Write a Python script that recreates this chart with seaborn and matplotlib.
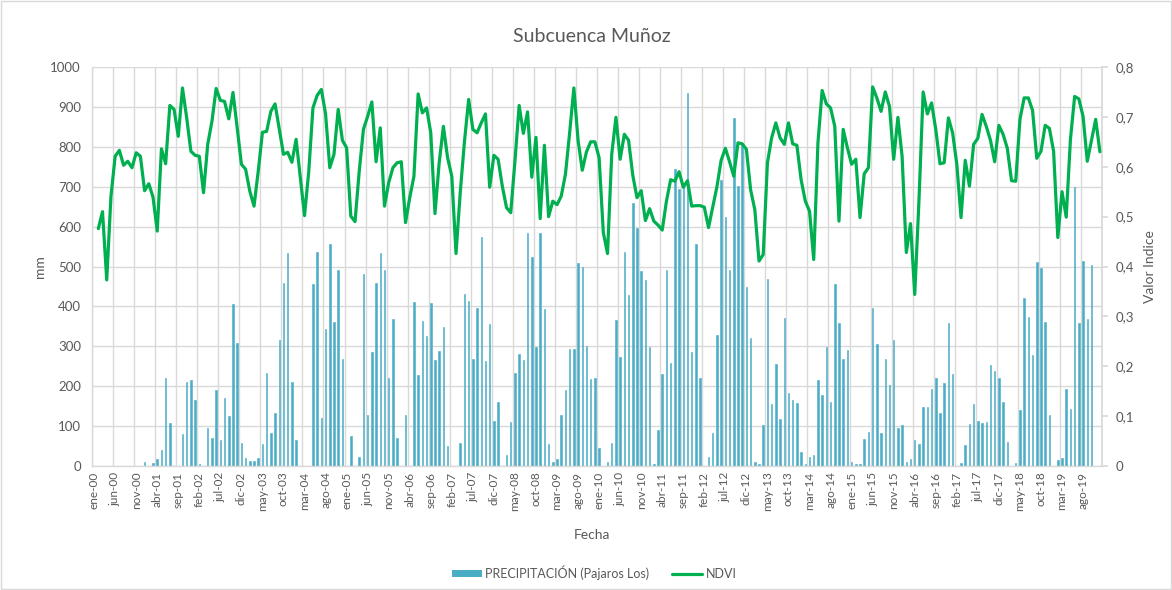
import numpy as np
import pandas as pd
import matplotlib
matplotlib.use('Agg')
import matplotlib.pyplot as plt
import seaborn as sns
from matplotlib.patches import Rectangle, Patch
from matplotlib.lines import Line2D
from matplotlib.ticker import FuncFormatter

meses = ['ene', 'feb', 'mar', 'abr', 'may', 'jun', 'jul', 'ago', 'sep', 'oct', 'nov', 'dic']
anios = list(range(0, 20))
fechas = [f'{m}-{a:02d}' for a in anios for m in meses]

precipitacion = [
    0, 0, 0, 0, 0, 0, 0, 0, 0, 0, 0, 0,
    11, 0, 7, 18, 39, 220, 109, 0, 0, 79, 211, 216,
    165, 6, 0, 94, 69, 190, 65, 171, 125, 405, 309, 58,
    20, 13, 13, 20, 54, 234, 82, 132, 316, 458, 534, 211,
    65, 0, 0, 0, 455, 537, 121, 344, 557, 362, 492, 267,
    0, 74, 0, 23, 482, 127, 286, 459, 534, 492, 220, 369,
    69, 0, 129, 0, 412, 227, 363, 325, 409, 265, 287, 349,
    50, 0, 0, 58, 430, 414, 267, 397, 574, 263, 355, 114,
    160, 0, 28, 110, 232, 280, 266, 583, 524, 299, 585, 393,
    54, 11, 17, 128, 190, 292, 292, 508, 500, 301, 217, 220,
    44, 0, 11, 58, 366, 274, 537, 428, 660, 596, 489, 466,
    299, 4, 89, 230, 490, 259, 745, 693, 699, 936, 286, 556,
    221, 0, 23, 82, 328, 717, 625, 490, 873, 703, 810, 449,
    321, 11, 4, 102, 468, 155, 255, 119, 372, 182, 165, 159,
    36, 6, 23, 27, 215, 177, 297, 160, 457, 359, 267, 291,
    11, 4, 4, 67, 84, 395, 305, 82, 269, 203, 315, 96,
    102, 11, 18, 64, 56, 148, 149, 194, 220, 134, 209, 359,
    230, 0, 8, 52, 106, 156, 113, 108, 111, 253, 238, 220,
    160, 61, 0, 8, 140, 420, 373, 277, 511, 495, 361, 129,
    0, 14, 19, 194, 142, 700, 358, 515, 369, 504, 0, 0,
]

ndvi = [
    np.nan, 0.476, 0.510, 0.373, 0.540, 0.621, 0.633, 0.603, 0.611, 0.598, 0.628, 0.621,
    0.552, 0.566, 0.539, 0.471, 0.636, 0.606, 0.723, 0.715, 0.661, 0.758, 0.698, 0.631,
    0.623, 0.621, 0.548, 0.645, 0.691, 0.757, 0.733, 0.731, 0.696, 0.749, 0.678, 0.605,
    0.595, 0.551, 0.521, 0.591, 0.669, 0.671, 0.711, 0.726, 0.675, 0.625, 0.629, 0.609,
    0.655, 0.578, 0.502, 0.590, 0.718, 0.743, 0.755, 0.706, 0.598, 0.625, 0.715, 0.653,
    0.638, 0.501, 0.490, 0.591, 0.675, 0.701, 0.730, 0.610, 0.678, 0.521, 0.568, 0.598,
    0.608, 0.610, 0.488, 0.538, 0.581, 0.746, 0.708, 0.718, 0.668, 0.506, 0.608, 0.681,
    0.618, 0.581, 0.426, 0.548, 0.650, 0.735, 0.675, 0.668, 0.688, 0.706, 0.559, 0.623,
    0.615, 0.561, 0.518, 0.508, 0.611, 0.723, 0.667, 0.710, 0.579, 0.659, 0.496, 0.643,
    0.500, 0.531, 0.524, 0.541, 0.585, 0.668, 0.758, 0.653, 0.593, 0.630, 0.650, 0.650,
    0.618, 0.468, 0.426, 0.625, 0.699, 0.615, 0.665, 0.653, 0.583, 0.538, 0.552, 0.492,
    0.516, 0.491, 0.483, 0.473, 0.531, 0.574, 0.571, 0.590, 0.559, 0.572, 0.521, 0.522,
    0.522, 0.519, 0.478, 0.519, 0.560, 0.613, 0.637, 0.610, 0.581, 0.648, 0.646, 0.635,
    0.554, 0.514, 0.411, 0.424, 0.608, 0.658, 0.688, 0.658, 0.645, 0.688, 0.646, 0.643,
    0.574, 0.531, 0.511, 0.414, 0.648, 0.753, 0.726, 0.718, 0.681, 0.491, 0.675, 0.638,
    0.605, 0.615, 0.498, 0.586, 0.598, 0.760, 0.738, 0.711, 0.750, 0.721, 0.615, 0.699,
    0.621, 0.428, 0.486, 0.344, 0.531, 0.750, 0.706, 0.728, 0.675, 0.606, 0.608, 0.698,
    0.668, 0.605, 0.498, 0.613, 0.561, 0.645, 0.657, 0.705, 0.681, 0.653, 0.610, 0.683,
    0.665, 0.637, 0.572, 0.571, 0.695, 0.738, 0.738, 0.713, 0.617, 0.631, 0.683, 0.677,
    0.631, 0.458, 0.550, 0.499, 0.655, 0.741, 0.736, 0.701, 0.611, 0.653, 0.695, 0.630,
]

serie_p = 'PRECIPITACIÓN (Pajaros Los)'
serie_n = 'NDVI'
titulo = 'Subcuenca Muñoz'

df = pd.DataFrame({'Fecha': fechas, serie_p: precipitacion, serie_n: ndvi})
df['pos'] = np.arange(len(df))

sns.set_theme(style='white')
plt.rcParams['font.family'] = ['Lato', 'DejaVu Sans']

TXT = '#595959'
GRID = '#D9D9D9'
BAR = '#4BACC6'
LINE = '#00B050'

W, H = 1172, 590
fig = plt.figure(figsize=(W / 100, H / 100), dpi=100)
fig.patch.set_facecolor('white')
ax = fig.add_axes([92 / W, 1 - 466 / H, 1010 / W, 399 / H])

sns.barplot(data=df, x='Fecha', y=serie_p, order=fechas, color=BAR, saturation=1,
            width=0.36, ax=ax, zorder=2, edgecolor=BAR, linewidth=0.4)
ax.set_xlim(-0.5, len(fechas) - 0.5)
ax.set_ylim(0, 1000)
ax.set_yticks(range(0, 1001, 100))
ax.set_xticks(range(0, len(fechas), 5))
ax.set_xticklabels(fechas[::5], rotation=90, fontsize=8.5, color=TXT)
ax.set_xticks(np.arange(-0.5, len(fechas), 5), minor=True)
ax.tick_params(axis='x', which='major', length=0, pad=4)
ax.tick_params(axis='x', which='minor', length=4, color=GRID, direction='out')
ax.tick_params(axis='y', length=0, labelsize=9.5, labelcolor=TXT, pad=8)
ax.grid(axis='y', which='major', color=GRID, lw=1, zorder=0)
ax.grid(axis='x', which='minor', color=GRID, lw=1, zorder=0)
ax.set_axisbelow(True)
for s in ['top', 'right']:
    ax.spines[s].set_visible(False)
for s in ['left', 'bottom']:
    ax.spines[s].set_color(GRID)
    ax.spines[s].set_linewidth(1)
ax.set_xlabel('')
ax.set_ylabel('')

ax2 = ax.twinx()
sns.lineplot(data=df, x='pos', y=serie_n, color=LINE, lw=2.3, ax=ax2, zorder=3)
ax2.set_xlim(-0.5, len(fechas) - 0.5)
ax2.set_ylim(0, 0.8)
ax2.set_yticks(np.arange(0, 0.81, 0.1))
ax2.yaxis.set_major_formatter(FuncFormatter(lambda v, p: '0' if abs(v) < 1e-9 else f'{v:.1f}'.replace('.', ',')))
ax2.tick_params(axis='y', length=4, color=GRID, labelsize=9.5, labelcolor=TXT, pad=6)
for s in ['top', 'left', 'bottom']:
    ax2.spines[s].set_visible(False)
ax2.spines['right'].set_color(GRID)
ax2.set_xlabel('')
ax2.set_ylabel('')
ax2.grid(False)

fig.text(592 / W, 1 - 37 / H, titulo, ha='center', va='center', fontsize=14, color=TXT)
fig.text(40 / W, 1 - 267 / H, 'mm', ha='center', va='center', rotation=90, fontsize=10, color=TXT)
fig.text(1150 / W, 1 - 267 / H, 'Valor Indice', ha='center', va='center', rotation=90, fontsize=10, color=TXT)
fig.text(592 / W, 1 - 535 / H, 'Fecha', ha='center', va='center', fontsize=10, color=TXT)

handles = [Patch(facecolor=BAR, edgecolor='none'), Line2D([0], [0], color=LINE, lw=2.3)]
leg = fig.legend(handles, [serie_p, serie_n], loc='center', bbox_to_anchor=(594 / W, 1 - 573 / H),
                 ncol=2, frameon=False, fontsize=9, handlelength=2.4, handleheight=0.5,
                 columnspacing=1.8, handletextpad=0.3)
for t in leg.get_texts():
    t.set_color(TXT)

fig.add_artist(Rectangle((0.0008, 0.0015), 0.9984, 0.997, transform=fig.transFigure,
                         fill=False, edgecolor=GRID, lw=1))

fig.savefig('out.png', dpi=100, facecolor='white')
